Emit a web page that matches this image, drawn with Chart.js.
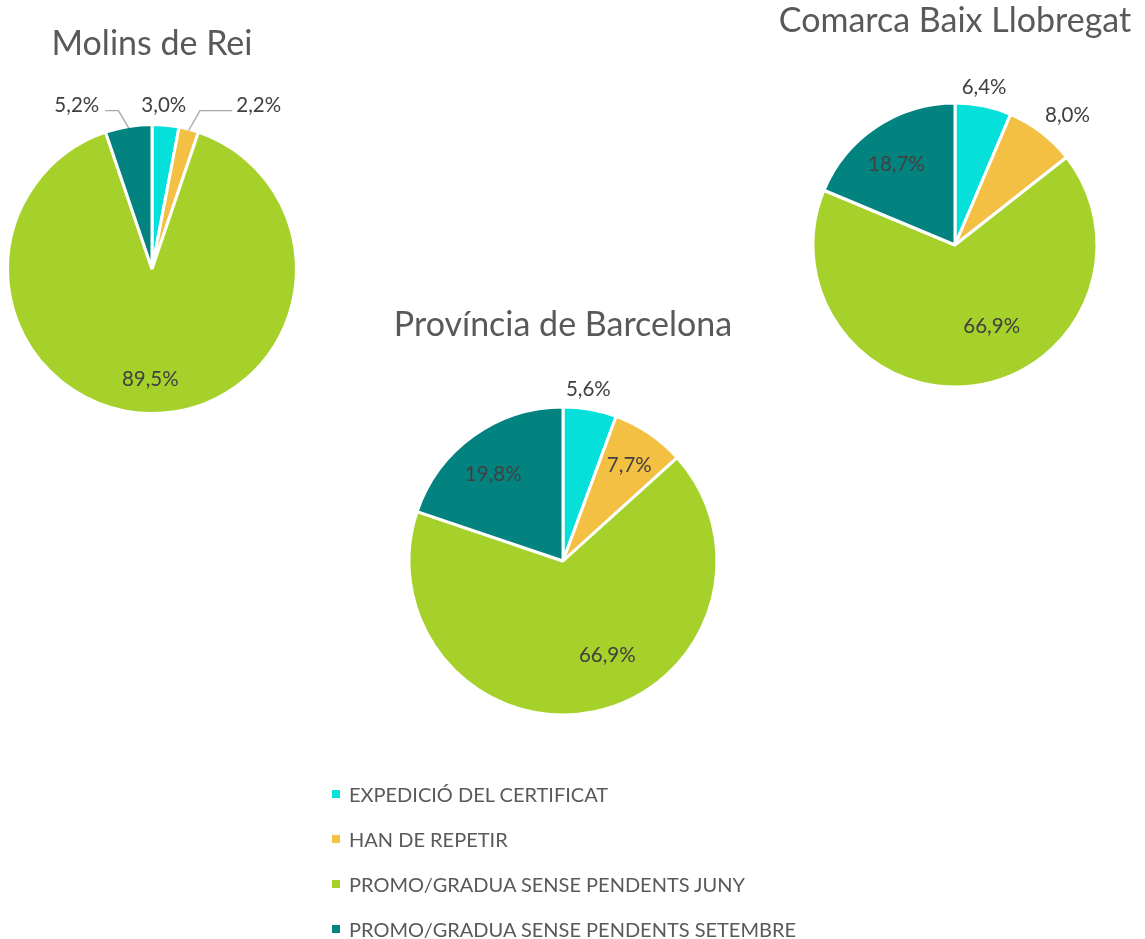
<!DOCTYPE html>
<html lang="ca">
  <head>
    <meta charset="UTF-8" />
    <title>Alumnes per resultat</title>
    <style>
      * {
        margin: 0;
        padding: 0;
      }

      body {
        width: 1145px;
        height: 939px;
        background: #ffffff;
        position: relative;
        overflow: hidden;
        font-family: Lato, sans-serif;
      }

      canvas {
        position: absolute;
        left: 0;
        top: 0;
      }

      #legend {
        position: absolute;
        left: 332px;
        top: 771px;
      }

      .legend-row {
        display: flex;
        align-items: center;
        height: 45px;
        font-size: 20px;
        color: #595959;
        white-space: nowrap;
      }

      .legend-box {
        width: 8px;
        height: 8px;
        margin-right: 9px;
      }
    </style>
  </head>
  <body>
    <canvas id="molins" width="1145" height="939"></canvas>
    <canvas id="comarca" width="1145" height="939"></canvas>
    <canvas id="barcelona" width="1145" height="939"></canvas>
    <div id="legend"></div>

    <script src="https://cdn.jsdelivr.net/npm/chart.js@4/dist/chart.umd.min.js"></script>
    <script>
      const categories = [
        'EXPEDICIÓ DEL CERTIFICAT',
        'HAN DE REPETIR',
        'PROMO/GRADUA SENSE PENDENTS JUNY',
        'PROMO/GRADUA SENSE PENDENTS SETEMBRE'
      ]
      const colors = ['#06E0DA', '#F4C043', '#A6D12A', '#03837F']

      const molinsValues = [3.0, 2.2, 89.5, 5.2]
      const comarcaValues = [6.4, 8.0, 66.9, 18.7]
      const barcelonaValues = [5.6, 7.7, 66.9, 19.8]

      const W = 1145
      const H = 939
      const BORDER = 3
      const TITLE_SIZE = 34
      const LABEL_SIZE = 20.5

      // Draws the percentage of every slice, with optional leader lines
      const sliceLabels = {
        id: 'sliceLabels',
        afterDatasetsDraw(chart, args, opts) {
          const ctx = chart.ctx
          const meta = chart.getDatasetMeta(0)
          const values = chart.data.datasets[0].data
          ctx.save()
          ctx.font = `${LABEL_SIZE}px Lato`
          ctx.textAlign = 'center'
          ctx.textBaseline = 'alphabetic'
          meta.data.forEach((arc, i) => {
            const p = arc.getProps(['x', 'y', 'startAngle', 'endAngle', 'outerRadius'], true)
            const r = p.outerRadius - BORDER / 2
            const mid = (p.startAngle + p.endAngle) / 2
            const [shift, dist] = opts.place[i]
            const a = mid + (shift * Math.PI) / 180
            const lx = p.x + Math.cos(a) * r * dist
            const ly = p.y + Math.sin(a) * r * dist
            const text = values[i].toFixed(1).replace('.', ',') + '%'

            const lead = opts.leaders && opts.leaders[i]
            if (lead) {
              const b = mid + (lead[0] * Math.PI) / 180
              const ex = p.x + Math.cos(b) * r * lead[1]
              const ey = p.y + Math.sin(b) * r * lead[1]
              const half = ctx.measureText(text).width / 2
              const endX = lx > ex ? lx - half - 4 : lx + half + 6
              ctx.strokeStyle = '#A6A6A6'
              ctx.lineWidth = 1.3
              ctx.beginPath()
              ctx.moveTo(p.x + Math.cos(mid) * r, p.y + Math.sin(mid) * r)
              ctx.lineTo(ex, ey)
              ctx.lineTo(endX, ey)
              ctx.stroke()
            }

            ctx.fillStyle = '#404040'
            ctx.fillText(text, lx, ly + LABEL_SIZE * 0.358)
          })
          ctx.restore()
        }
      }

      function drawPie(id, title, values, geo, place, leaders) {
        const { cx, cy, r, hw, titleY } = geo
        const hh = r + BORDER
        const top = titleY - 1 - TITLE_SIZE * 0.6
        const titleGap = cy - hh - (titleY - 1) - TITLE_SIZE * 0.6

        return new Chart(document.getElementById(id), {
          type: 'pie',
          data: {
            labels: categories,
            datasets: [
              {
                data: values,
                backgroundColor: colors,
                borderColor: '#ffffff',
                borderWidth: BORDER
              }
            ]
          },
          options: {
            responsive: false,
            animation: false,
            events: [],
            radius: r + BORDER / 2,
            layout: {
              padding: {
                left: cx - hw,
                right: W - cx - hw,
                top: top,
                bottom: H - cy - hh
              }
            },
            plugins: {
              legend: { display: false },
              tooltip: { enabled: false },
              title: {
                display: true,
                text: title,
                color: '#595959',
                font: { family: 'Lato', size: TITLE_SIZE, weight: 'normal' },
                padding: { top: 0, bottom: titleGap }
              },
              sliceLabels: { place, leaders }
            }
          },
          plugins: [sliceLabels]
        })
      }

      drawPie(
        'molins',
        'Molins de Rei',
        molinsValues,
        { cx: 152, cy: 269, r: 143, hw: 150, titleY: 45.5 },
        [[-1.3, 1.153], [18.2, 1.371], [0.9, 0.767], [-15.2, 1.265]],
        [null, [2.1, 1.157], null, [-2.6, 1.132]]
      )

      drawPie(
        'comarca',
        'Comarca Baix Llobregat',
        comarcaValues,
        { cx: 955, cy: 245, r: 140.5, hw: 185, titleY: 22.5 },
        [[-1.1, 1.145], [3.3, 1.227], [-16.7, 0.631], [-2.2, 0.712]]
      )

      drawPie(
        'barcelona',
        'Província de Barcelona',
        barcelonaValues,
        { cx: 563, cy: 561, r: 152.5, hw: 200, titleY: 325.8 },
        [[-1.7, 1.139], [0.4, 0.769], [-13.7, 0.677], [-3.0, 0.733]]
      )

      // Legend below the charts
      const legend = document.getElementById('legend')
      categories.forEach((label, i) => {
        const row = document.createElement('div')
        row.className = 'legend-row'
        const box = document.createElement('span')
        box.className = 'legend-box'
        box.style.background = colors[i]
        const text = document.createElement('span')
        text.textContent = label
        row.appendChild(box)
        row.appendChild(text)
        legend.appendChild(row)
      })
    </script>
  </body>
</html>
